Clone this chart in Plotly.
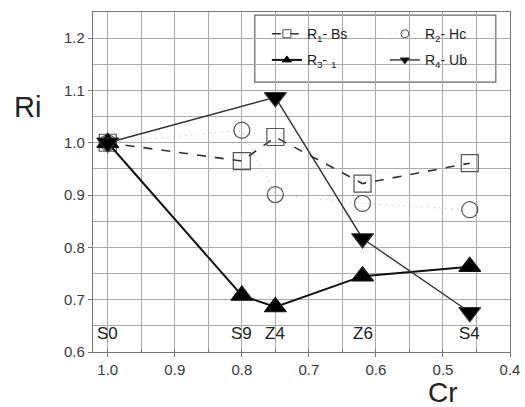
import plotly.graph_objects as go

cr = [1.0, 0.80, 0.75, 0.62, 0.46]
sample_labels = ["S0", "S9", "Z4", "Z6", "S4"]
r1_bs = [1.0, 0.965, 1.011, 0.922, 0.961]
r2_hc = [1.0, 1.024, 0.901, 0.884, 0.872]
r3 = [1.0, 0.708, 0.686, 0.745, 0.763]
cr_r4 = [1.0, 0.75, 0.62, 0.46]
r4_ub = [1.0, 1.087, 0.817, 0.676]

font_main = "Liberation Sans, Arial, sans-serif"

series = [
    dict(x=cr, y=r1_bs, name="R<sub>1</sub>- Bs", leg="legend",
         line=dict(color="#333333", width=1.6, dash="dash"),
         sym="square-open", size=17, color="#555555"),
    dict(x=cr, y=r2_hc, name="R<sub>2</sub>- Hc", leg="legend2",
         line=dict(color="#b5b5b5", width=1, dash="1px,5px"),
         sym="circle-open", size=16, color="#555555"),
    dict(x=cr, y=r3, name="R<sub>3</sub>- <sub>1</sub>", leg="legend",
         line=dict(color="#111111", width=2),
         sym="triangle-up", size=19, color="#000000"),
    dict(x=cr_r4, y=r4_ub, name="R<sub>4</sub>- Ub", leg="legend2",
         line=dict(color="#333333", width=1.4),
         sym="triangle-down", size=19, color="#000000"),
]

fig = go.Figure()
for i, s in enumerate(series):
    fig.add_trace(go.Scatter(
        x=s["x"], y=s["y"], mode="lines+markers", name=s["name"], showlegend=False,
        line=s["line"],
        marker=dict(symbol=s["sym"], size=s["size"], color=s["color"], line=dict(width=1.2))))
for i, s in enumerate(series):
    fig.add_trace(go.Scatter(
        x=[None], y=[None], mode="lines+markers", name=s["name"], showlegend=True,
        line=s["line"], legend=s["leg"], legendgroup="g%d" % i,
        marker=dict(symbol=s["sym"], size=8, color=s["color"], line=dict(width=1))))

for xv, lab in zip(cr, sample_labels):
    fig.add_annotation(x=xv, y=0.636, text=lab, showarrow=False,
                       font=dict(size=17, color="#222222", family=font_main))

fig.add_annotation(xref="paper", yref="paper", x=-0.158, y=0.72, xanchor="center", yanchor="middle",
                   text="Ri", showarrow=False,
                   font=dict(size=29, color="#222222", family=font_main))
fig.add_annotation(xref="paper", yref="paper", x=0.839, y=-0.12, xanchor="center", yanchor="middle",
                   text="Cr", showarrow=False,
                   font=dict(size=28, color="#222222", family=font_main))

# combined legend frame
fig.add_shape(type="rect", xref="paper", yref="paper", x0=0.388, x1=0.966, y0=0.794, y1=0.991,
              line=dict(color="#666666", width=1.2), fillcolor="white", layer="below")

leg_common = dict(bgcolor="rgba(0,0,0,0)", borderwidth=0, yanchor="top", xanchor="left",
                  font=dict(size=14, color="#222222", family=font_main), tracegroupgap=5,
                  itemsizing="trace")
fig.update_layout(
    legend=dict(x=0.417, y=0.982, **leg_common),
    legend2=dict(x=0.70, y=0.982, **leg_common),
)

axis_common = dict(showline=True, linecolor="#777777", linewidth=1.2, mirror=True,
                   showgrid=True, gridcolor="#aaaaaa", gridwidth=1,
                   ticks="outside", ticklen=4, tickcolor="#777777",
                   tickfont=dict(size=15, color="#3a3a3a", family=font_main),
                   zeroline=False)
fig.update_xaxes(range=[1.022, 0.4], dtick=0.1, tick0=0.4, tickformat=".1f",
                 minor=dict(dtick=0.05, showgrid=True, gridcolor="#aaaaaa", ticks="inside", ticklen=3),
                 **axis_common)
fig.update_yaxes(range=[0.6, 1.25], dtick=0.1, tick0=0.6, tickformat=".1f",
                 minor=dict(dtick=0.05, showgrid=True, gridcolor="#aaaaaa"),
                 **axis_common)

fig.update_layout(width=525, height=407,
                  margin=dict(l=93, r=15, t=12, b=55, autoexpand=False),
                  plot_bgcolor="white", paper_bgcolor="white", showlegend=True)

fig.write_html("out.html")
